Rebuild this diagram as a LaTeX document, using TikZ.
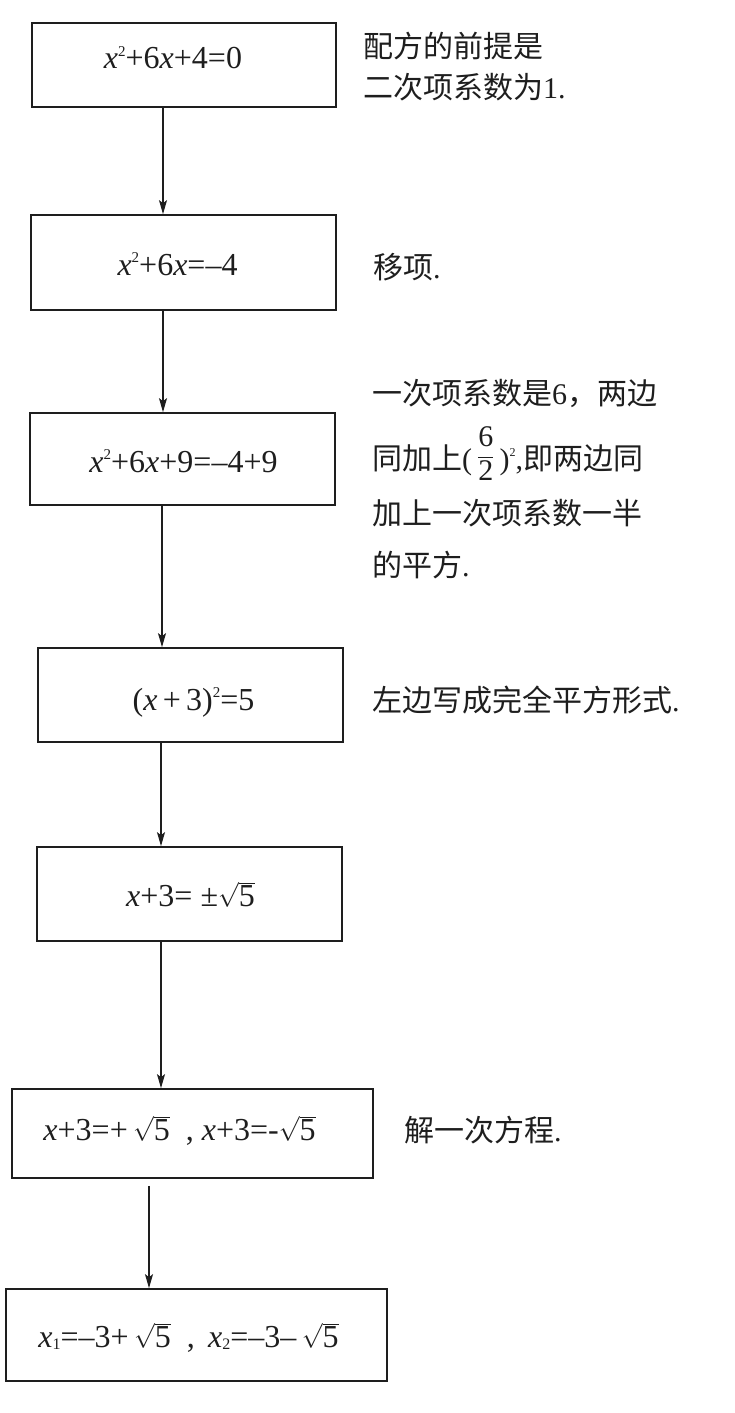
\documentclass[tikz,border=0pt]{standalone}
\usepackage{fontspec}
\setmainfont{Liberation Serif}
\newfontfamily\cjk{Noto Sans CJK SC}
\usetikzlibrary{arrows.meta}
\newcommand\vx{\textit{x}}
\newcommand\supp[1]{\raisebox{13pt}{\fontsize{15}{15}\selectfont #1}}
\newcommand\subb[1]{\raisebox{-2pt}{\fontsize{16}{16}\selectfont #1}}
\newcommand\rt[1]{$\sqrt{\mbox{#1}}$}
\definecolor{ink}{HTML}{1E1E1E}
\begin{document}
\begin{tikzpicture}[x=1pt,y=-1pt,
  box/.style={draw=ink, line width=1.7pt, inner sep=0pt},
  eq/.style={anchor=base, inner sep=0pt, text=ink, font=\fontsize{32}{38}\selectfont},
  note/.style={anchor=base west, inner sep=0pt, text=ink, font=\fontsize{30}{36}\selectfont},
  arr/.style={draw=ink, line width=1.3pt, -{Stealth[length=14pt,width=8pt,inset=3pt]}}]
\useasboundingbox (0,0) rectangle (734,1413);
% boxes
\node[box, minimum width=304pt, minimum height=84pt] (b1) at (184,65) {};
\node[box, minimum width=305pt, minimum height=95pt] (b2) at (183.5,262.5) {};
\node[box, minimum width=305pt, minimum height=92pt] (b3) at (182.5,459) {};
\node[box, minimum width=305pt, minimum height=94pt] (b4) at (190.5,695) {};
\node[box, minimum width=305pt, minimum height=94pt] (b5) at (189.5,894) {};
\node[box, minimum width=361pt, minimum height=89pt] (b6) at (192.5,1133.5) {};
\node[box, minimum width=381pt, minimum height=92pt] (b7) at (196.5,1335) {};
% equations
\node[eq] (t1) at (173,69) {\vx\supp{2}+6\vx+4=0};
\node[eq] (t2) at (177.5,275) {\vx\supp{2}+6\vx=–4};
\node[eq] (t3) at (183.5,472) {\vx\supp{2}+6\vx+9=–4+9};
\node[eq] (t4) at (193.5,710) {(\vx\,+\,3)\supp{2}=5};
\node[eq] (t5) at (190.5,906) {\vx+3= ±\rt{5}};
\node[eq] (t6) at (179.5,1140) {\vx+3=+\,\rt{5}\ \ , \vx+3=-\rt{5}};
\node[eq] (t7) at (188.5,1347) {\vx\subb{1}=–3+\,\rt{5}\ \ , \,\vx\subb{2}=–3–\,\rt{5}};
% notes
\node[note] (n1a) at (363,58) {\cjk 配方的前提是};
\node[note] (n1b) at (363,99) {{\cjk 二次项系数为}1.};
\node[note] (n2) at (373,278) {{\cjk 移项}.};
\node[note] (n3a) at (372,404) {{\cjk 一次项系数是}6{\cjk ，两边}};
\node[note] (n3b) at (372,469) {{\cjk 同加上}(\,\raisebox{6pt}{$\displaystyle\frac{\mbox{6}}{\mbox{2}}$}\,)\raisebox{13pt}{\fontsize{12}{12}\selectfont 2},{\cjk 即两边同}};
\node[note] (n3c) at (372,524) {\cjk 加上一次项系数一半};
\node[note] (n3d) at (372,576) {{\cjk 的平方}.};
\node[note] (n4) at (372,711) {{\cjk 左边写成完全平方形式}.};
\node[note] (n6) at (404,1141) {{\cjk 解一次方程}.};
% arrow columns
\coordinate (c1) at (163,0);
\coordinate (c2) at (163,0);
\coordinate (c3) at (162,0);
\coordinate (c4) at (161,0);
\coordinate (c5) at (161,0);
\coordinate (c6) at (149,0);
\draw[arr] (b1.south -| c1) -- (b2.north -| c1);
\draw[arr] (b2.south -| c2) -- (b3.north -| c2);
\draw[arr] (b3.south -| c3) -- (b4.north -| c3);
\draw[arr] (b4.south -| c4) -- (b5.north -| c4);
\draw[arr] (b5.south -| c5) -- (b6.north -| c5);
\draw[arr, shorten <=7pt] (b6.south -| c6) -- (b7.north -| c6);
\end{tikzpicture}
\end{document}
